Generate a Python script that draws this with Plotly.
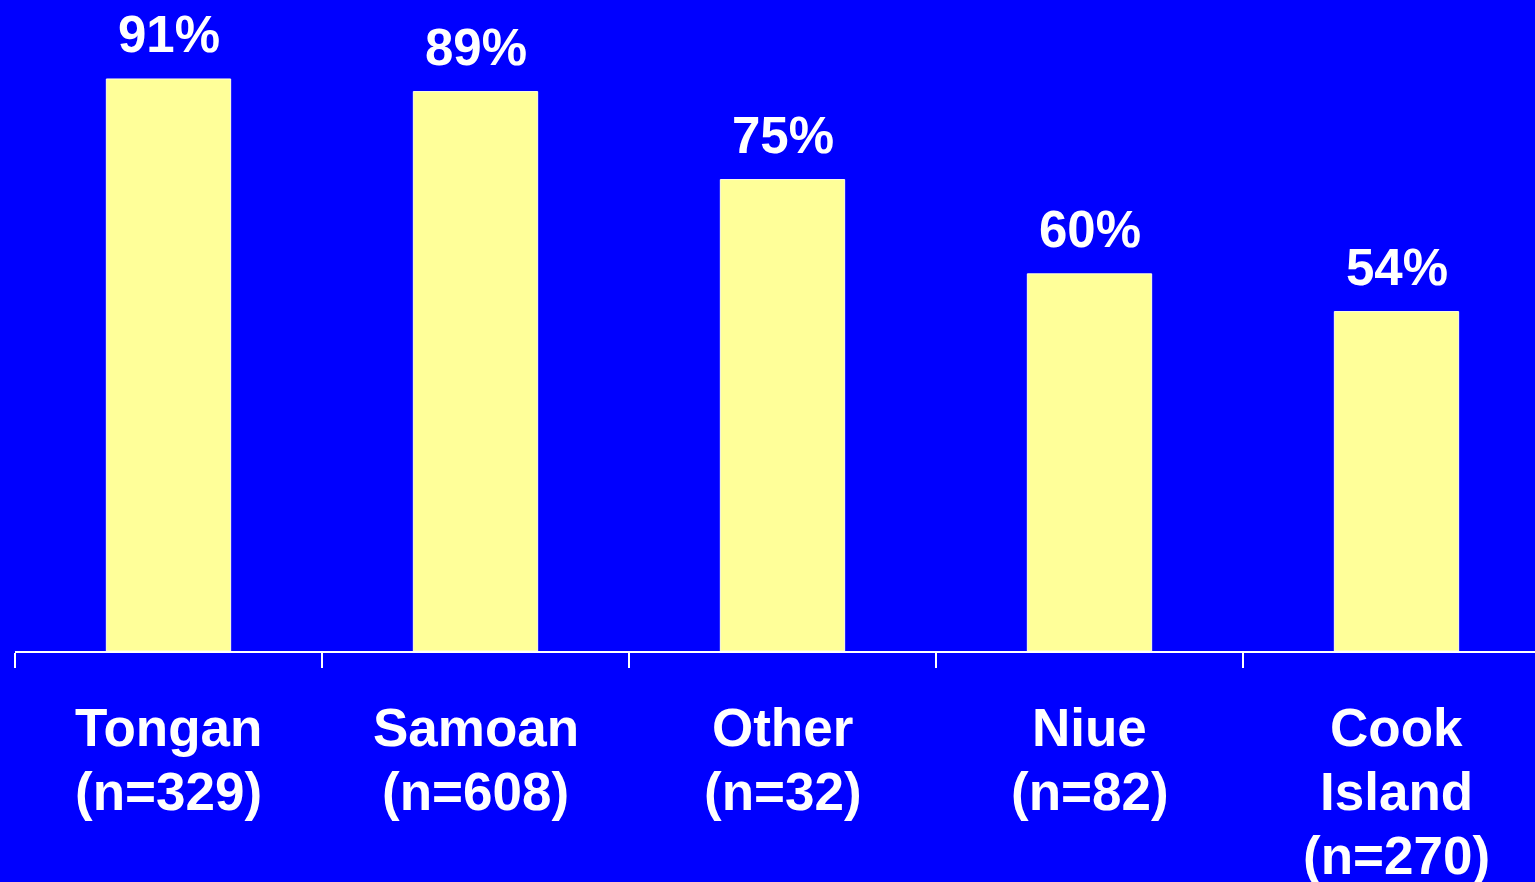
import plotly.graph_objects as go

categories = ["Tongan<br>(n=329)", "Samoan<br>(n=608)", "Other<br>(n=32)", "Niue<br>(n=82)", "Cook<br>Island<br>(n=270)"]
values = [91, 89, 75, 60, 54]
value_labels = ["91%", "89%", "75%", "60%", "54%"]

BG = "#0000FF"
BAR = "#FFFF99"
FONT = "Liberation Sans, Arial, sans-serif"

xs = list(range(len(categories)))

fig = go.Figure()
fig.add_trace(go.Bar(
    x=xs, y=values, width=0.405,
    marker=dict(color=BAR, line=dict(color="#FFFFE0", width=1)),
    hoverinfo="skip",
))

annotations = []
for i, (v, t) in enumerate(zip(values, value_labels)):
    annotations.append(dict(
        x=i, y=v, xref="x", yref="y", text="<b>%s</b>" % t, showarrow=False,
        yanchor="bottom", yshift=14,
        font=dict(family=FONT, size=51, color="white"),
    ))
for i, cat in enumerate(categories):
    for j, line in enumerate(cat.split("<br>")):
        annotations.append(dict(
            x=i, y=0, xref="x", yref="y", text="<b>%s</b>" % line, showarrow=False,
            yanchor="middle", yshift=-(76 + 64 * j),
            font=dict(family=FONT, size=53, color="white"),
        ))

fig.update_layout(
    width=1535, height=882,
    paper_bgcolor=BG, plot_bgcolor=BG,
    margin=dict(l=15, r=0, t=0, b=231),
    showlegend=False,
    annotations=annotations,
    xaxis=dict(
        range=[-0.5, -0.5 + 1520 / 307], showgrid=False, zeroline=False,
        tickvals=[-0.5, 0.5, 1.5, 2.5, 3.5], ticktext=["", "", "", "", ""],
        ticks="outside", ticklen=15, tickwidth=2, tickcolor="white",
        showline=True, linecolor="white", linewidth=2,
    ),
    yaxis=dict(range=[0, 651 / 6.286], visible=False, showgrid=False, zeroline=False),
)

fig.write_html("out.html", config={"displayModeBar": False},
               post_script="document.body.style.margin='0';document.body.style.overflow='hidden';")
